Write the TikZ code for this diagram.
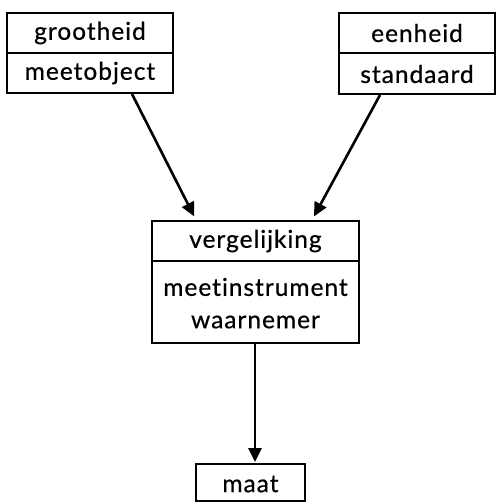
\documentclass[tikz,border=0pt]{standalone}
\usepackage{fontspec}
\setmainfont[LetterSpace=4,Ligatures=NoCommon,FakeBold=0.6]{Lato}
\usetikzlibrary{arrows.meta}
\begin{document}
\begin{tikzpicture}[x=1pt,y=-1pt,
  box/.style={draw,line width=2pt,inner sep=0pt},
  lbl/.style={inner sep=0pt,font=\fontsize{24.5}{26}\selectfont},
  divline/.style={line width=1.6pt},
  arr/.style={line width=2.6pt,-{Triangle[length=14pt,width=13pt]}}]
\useasboundingbox (0,0) rectangle (497,503);
% box A
\node[box,minimum width=166pt,minimum height=80pt] (A) at (90,53) {};
\draw[divline] (A.west) -- (A.east);
\node[lbl] (a1) at (90,33) {grootheid};
\node[lbl] (a2) at (90,73) {meetobject};
% box B
\node[box,minimum width=156pt,minimum height=81pt] (B) at (417,53.5) {};
\draw[divline] ([yshift=0.5pt]B.west) -- ([yshift=0.5pt]B.east);
\node[lbl] (b1) at (417,33) {eenheid};
\node[lbl] (b2) at (417,74) {standaard};
% box C
\node[box,minimum width=207pt,minimum height=122pt] (C) at (255.5,282) {};
\draw[divline] ([yshift=-41pt]C.north west) -- ([yshift=-41pt]C.north east);
\node[lbl] (c1) at (255.5,241) {vergelijking};
\node[lbl] (c2) at (255.5,287) {meetinstrument};
\node[lbl] (c3) at (255.5,322) {waarnemer};
% box D
\node[box,minimum width=109pt,minimum height=37pt] (D) at (250.5,482.5) {};
\node[lbl] (d1) at (250.5,484) {maat};
% arrows
\draw[arr,shorten >=4pt] ([xshift=42pt]A.south) -- ([xshift=-59.5pt]C.north);
\draw[arr,shorten >=4pt] ([xshift=-37pt]B.south) -- ([xshift=56.5pt]C.north);
\draw[arr,shorten >=1pt] ([xshift=-0.5pt]C.south) -- ([xshift=4.5pt]D.north);
\end{tikzpicture}
\end{document}
